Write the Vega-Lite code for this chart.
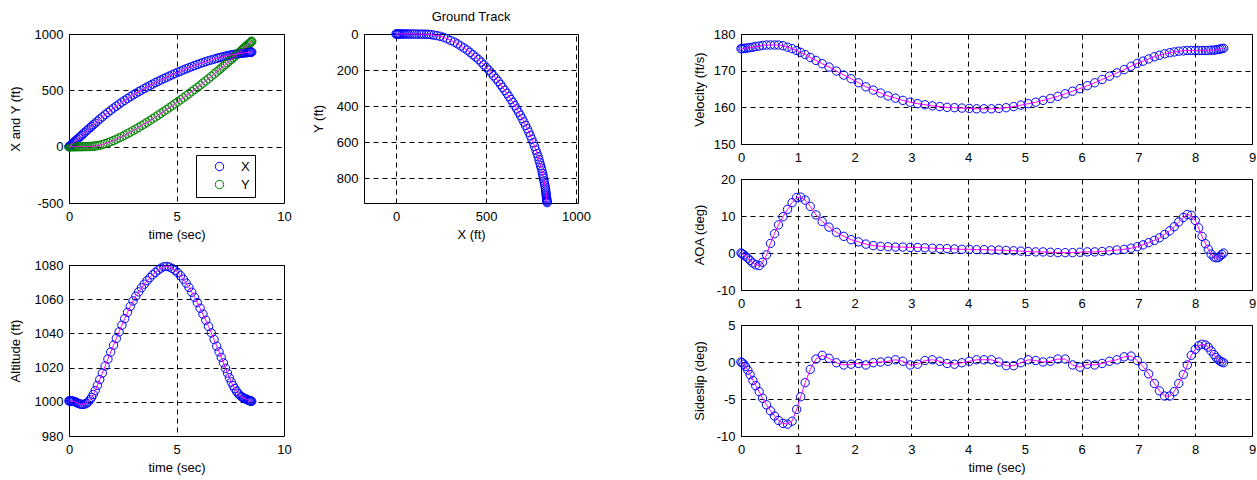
{
  "$schema": "https://vega.github.io/schema/vega-lite/v6.json",
  "background": "white",
  "padding": {"left": 8, "top": 10, "right": 0, "bottom": 0},
  "config": {
    "font": "Liberation Sans",
    "locale": {"number": {"decimal": ".", "thousands": "", "grouping": [3], "currency": ["", ""], "minus": "-"}},
    "view": {"stroke": "#000", "strokeWidth": 1},
    "axis": {
      "grid": true, "gridColor": "#000", "gridDash": [5, 4], "gridWidth": 1, "gridOpacity": 1,
      "domain": false, "ticks": false,
      "labelFont": "Liberation Sans", "labelFontSize": 13, "labelColor": "#000",
      "labelFlush": false, "labelOverlap": false,
      "titleFont": "Liberation Sans", "titleFontSize": 13, "titleFontWeight": "normal", "titleColor": "#000"
    },
    "axisX": {"labelPadding": 7, "titleY": 31, "titleBaseline": "middle"},
    "axisY": {"labelPadding": 6, "titleBaseline": "middle"},
    "title": {"font": "Liberation Sans", "fontSize": 13, "fontWeight": "normal", "color": "#000", "offset": 4, "baseline": "bottom", "frame": "group"}
  },
  "datasets": {
    "d": [
      {"t":0,"X":0,"Y":0,"h":1000.5,"v":176.0,"a":0,"b":0},
      {"t":0.02,"X":3.5,"Y":0,"h":1000.5,"v":176.0,"a":-0.2,"b":-0.1},
      {"t":0.05,"X":8.6,"Y":0,"h":1000.5,"v":176.1,"a":-0.5,"b":-0.3},
      {"t":0.08,"X":13.8,"Y":0,"h":1000.5,"v":176.1,"a":-0.9,"b":-0.6},
      {"t":0.12,"X":20.7,"Y":0,"h":1000.5,"v":176.2,"a":-1.4,"b":-1.1},
      {"t":0.16,"X":27.6,"Y":0,"h":1000.4,"v":176.3,"a":-2.0,"b":-1.7},
      {"t":0.21,"X":36.3,"Y":0,"h":1000.3,"v":176.4,"a":-2.7,"b":-2.5},
      {"t":0.26,"X":44.9,"Y":0,"h":1000.1,"v":176.6,"a":-3.2,"b":-3.2},
      {"t":0.32,"X":55.3,"Y":0,"h":999.8,"v":176.7,"a":-3.4,"b":-4.0},
      {"t":0.38,"X":65.7,"Y":0,"h":999.4,"v":176.9,"a":-2.5,"b":-4.9},
      {"t":0.45,"X":77.8,"Y":0,"h":999.0,"v":177.0,"a":-0.5,"b":-5.8},
      {"t":0.52,"X":89.9,"Y":0.1,"h":998.7,"v":177.0,"a":2.6,"b":-6.6},
      {"t":0.59,"X":102.0,"Y":0.3,"h":998.5,"v":177.0,"a":5.2,"b":-7.3},
      {"t":0.66,"X":114.0,"Y":0.5,"h":998.5,"v":177.0,"a":7.6,"b":-7.9},
      {"t":0.74,"X":127.8,"Y":0.7,"h":998.7,"v":176.8,"a":9.8,"b":-8.3},
      {"t":0.82,"X":141.6,"Y":0.9,"h":999.2,"v":176.4,"a":11.8,"b":-8.4},
      {"t":0.9,"X":155.4,"Y":1.2,"h":1000.0,"v":176.0,"a":13.6,"b":-8.0},
      {"t":0.98,"X":169.2,"Y":1.4,"h":1001.2,"v":175.5,"a":15.0,"b":-6.4},
      {"t":1.05,"X":181.1,"Y":2.2,"h":1002.5,"v":175.0,"a":15.1,"b":-4.7},
      {"t":1.13,"X":194.3,"Y":3.7,"h":1004.3,"v":174.4,"a":14.3,"b":-2.8},
      {"t":1.22,"X":209.3,"Y":6.0,"h":1006.6,"v":173.6,"a":12.6,"b":-1.0},
      {"t":1.32,"X":226.5,"Y":9.0,"h":1009.6,"v":172.8,"a":10.3,"b":0.4},
      {"t":1.43,"X":244.9,"Y":12.8,"h":1013.0,"v":171.9,"a":8.5,"b":0.9},
      {"t":1.55,"X":264.3,"Y":18.2,"h":1016.8,"v":171.0,"a":7.0,"b":0.5},
      {"t":1.68,"X":284.0,"Y":27.0,"h":1020.9,"v":169.9,"a":5.6,"b":-0.1},
      {"t":1.81,"X":303.7,"Y":35.8,"h":1025.0,"v":168.8,"a":4.5,"b":-0.4},
      {"t":1.94,"X":323.4,"Y":44.6,"h":1029.1,"v":167.8,"a":3.6,"b":-0.3},
      {"t":2.07,"X":342.0,"Y":54.8,"h":1033.1,"v":166.7,"a":3.0,"b":-0.2},
      {"t":2.2,"X":359.7,"Y":66.2,"h":1037.0,"v":165.6,"a":2.4,"b":-0.4},
      {"t":2.33,"X":377.3,"Y":77.7,"h":1040.9,"v":164.7,"a":2.0,"b":-0.1},
      {"t":2.46,"X":395.0,"Y":89.2,"h":1044.8,"v":163.9,"a":1.8,"b":0.0},
      {"t":2.59,"X":411.4,"Y":101.9,"h":1048.6,"v":163.1,"a":1.7,"b":0.1},
      {"t":2.72,"X":427.2,"Y":115.2,"h":1052.3,"v":162.5,"a":1.6,"b":0.3},
      {"t":2.85,"X":443.1,"Y":128.5,"h":1055.8,"v":161.9,"a":1.6,"b":0.1},
      {"t":2.98,"X":459.0,"Y":141.9,"h":1059.0,"v":161.4,"a":1.5,"b":-0.4},
      {"t":3.11,"X":473.4,"Y":156.4,"h":1061.8,"v":161.0,"a":1.5,"b":-0.3},
      {"t":3.24,"X":487.6,"Y":171.1,"h":1064.3,"v":160.7,"a":1.4,"b":0.2},
      {"t":3.37,"X":501.9,"Y":185.9,"h":1066.7,"v":160.4,"a":1.3,"b":0.3},
      {"t":3.5,"X":516.1,"Y":200.6,"h":1068.8,"v":160.2,"a":1.2,"b":0.1},
      {"t":3.63,"X":529.2,"Y":216.2,"h":1070.8,"v":160.0,"a":1.2,"b":-0.2},
      {"t":3.76,"X":542.3,"Y":231.9,"h":1072.6,"v":159.9,"a":1.1,"b":-0.3},
      {"t":3.89,"X":555.4,"Y":247.5,"h":1074.3,"v":159.8,"a":1.0,"b":-0.1},
      {"t":4.02,"X":568.3,"Y":263.2,"h":1075.7,"v":159.7,"a":1.0,"b":0.1},
      {"t":4.15,"X":580.3,"Y":279.7,"h":1077.1,"v":159.6,"a":0.9,"b":0.3},
      {"t":4.28,"X":592.3,"Y":296.2,"h":1078.2,"v":159.6,"a":0.9,"b":0.3},
      {"t":4.41,"X":604.2,"Y":312.6,"h":1079.0,"v":159.6,"a":0.8,"b":0.3},
      {"t":4.54,"X":615.9,"Y":329.3,"h":1079.2,"v":159.7,"a":0.8,"b":0.0},
      {"t":4.67,"X":627.1,"Y":346.4,"h":1078.8,"v":159.9,"a":0.7,"b":-0.5},
      {"t":4.8,"X":638.2,"Y":363.5,"h":1078.0,"v":160.2,"a":0.6,"b":-0.5},
      {"t":4.93,"X":649.3,"Y":380.6,"h":1076.9,"v":160.6,"a":0.5,"b":-0.1},
      {"t":5.06,"X":660.1,"Y":398.0,"h":1075.5,"v":161.0,"a":0.4,"b":0.3},
      {"t":5.19,"X":670.4,"Y":415.9,"h":1073.7,"v":161.4,"a":0.3,"b":0.2},
      {"t":5.32,"X":680.7,"Y":433.8,"h":1071.7,"v":161.9,"a":0.3,"b":0.0},
      {"t":5.45,"X":691.0,"Y":451.6,"h":1069.4,"v":162.4,"a":0.2,"b":0.1},
      {"t":5.58,"X":700.8,"Y":470.0,"h":1066.9,"v":163.0,"a":0.1,"b":0.4},
      {"t":5.71,"X":710.3,"Y":488.6,"h":1064.1,"v":163.7,"a":0.1,"b":0.4},
      {"t":5.84,"X":719.8,"Y":507.2,"h":1061.1,"v":164.4,"a":0.1,"b":-0.4},
      {"t":5.97,"X":729.3,"Y":525.8,"h":1058.0,"v":165.1,"a":0.2,"b":-0.7},
      {"t":6.1,"X":737.9,"Y":545.2,"h":1054.7,"v":165.9,"a":0.3,"b":-0.3},
      {"t":6.23,"X":746.2,"Y":564.8,"h":1051.3,"v":166.7,"a":0.3,"b":-0.4},
      {"t":6.36,"X":754.5,"Y":584.3,"h":1047.7,"v":167.6,"a":0.4,"b":-0.2},
      {"t":6.49,"X":762.9,"Y":603.9,"h":1044.1,"v":168.5,"a":0.6,"b":0.1},
      {"t":6.62,"X":770.0,"Y":624.3,"h":1040.3,"v":169.4,"a":0.8,"b":0.3},
      {"t":6.75,"X":777.1,"Y":644.8,"h":1036.4,"v":170.3,"a":1.0,"b":0.7},
      {"t":6.87,"X":783.6,"Y":663.7,"h":1032.5,"v":171.2,"a":1.3,"b":0.8},
      {"t":6.98,"X":789.6,"Y":681.1,"h":1029.2,"v":172.0,"a":1.7,"b":0.2},
      {"t":7.08,"X":794.2,"Y":697.4,"h":1026.0,"v":172.6,"a":2.2,"b":-0.6},
      {"t":7.18,"X":798.6,"Y":713.8,"h":1022.8,"v":173.2,"a":2.8,"b":-1.6},
      {"t":7.28,"X":803.0,"Y":730.2,"h":1019.6,"v":173.8,"a":3.4,"b":-2.9},
      {"t":7.37,"X":807.0,"Y":745.0,"h":1016.8,"v":174.2,"a":4.1,"b":-3.9},
      {"t":7.46,"X":810.9,"Y":759.8,"h":1014.1,"v":174.6,"a":5.0,"b":-4.6},
      {"t":7.55,"X":814.3,"Y":774.8,"h":1011.6,"v":174.9,"a":6.0,"b":-4.6},
      {"t":7.63,"X":816.9,"Y":788.3,"h":1009.5,"v":175.1,"a":7.1,"b":-4.0},
      {"t":7.71,"X":819.6,"Y":801.8,"h":1007.7,"v":175.3,"a":8.4,"b":-2.9},
      {"t":7.79,"X":822.2,"Y":815.2,"h":1006.2,"v":175.4,"a":9.6,"b":-1.7},
      {"t":7.86,"X":824.5,"Y":827.0,"h":1005.0,"v":175.5,"a":10.4,"b":-0.4},
      {"t":7.93,"X":826.8,"Y":838.8,"h":1004.0,"v":175.5,"a":10.2,"b":0.9},
      {"t":8.0,"X":829.1,"Y":850.6,"h":1003.2,"v":175.5,"a":8.8,"b":1.7},
      {"t":8.06,"X":830.4,"Y":860.9,"h":1002.7,"v":175.5,"a":6.8,"b":2.2},
      {"t":8.12,"X":831.6,"Y":871.1,"h":1002.3,"v":175.5,"a":4.5,"b":2.4},
      {"t":8.18,"X":832.9,"Y":881.4,"h":1001.9,"v":175.5,"a":2.5,"b":2.3},
      {"t":8.23,"X":833.9,"Y":889.9,"h":1001.6,"v":175.5,"a":1.0,"b":2.0},
      {"t":8.28,"X":835.0,"Y":898.4,"h":1001.3,"v":175.6,"a":-0.3,"b":1.5},
      {"t":8.33,"X":836.0,"Y":907.0,"h":1001.0,"v":175.6,"a":-1.1,"b":1.0},
      {"t":8.37,"X":836.9,"Y":913.8,"h":1000.8,"v":175.7,"a":-1.3,"b":0.6},
      {"t":8.41,"X":837.7,"Y":920.7,"h":1000.6,"v":175.8,"a":-1.2,"b":0.3},
      {"t":8.44,"X":838.3,"Y":925.8,"h":1000.5,"v":175.9,"a":-0.8,"b":0.1},
      {"t":8.47,"X":839.0,"Y":931.0,"h":1000.4,"v":176.0,"a":-0.4,"b":0.0},
      {"t":8.5,"X":839.6,"Y":936.1,"h":1000.3,"v":176.1,"a":0,"b":-0.1}
    ]
  },
  "spacing": 101,
  "resolve": {"scale": {"color": "independent"}, "legend": {"color": "independent"}},
  "hconcat": [
    {
      "spacing": 19,
      "resolve": {"scale": {"color": "independent"}, "legend": {"color": "independent"}},
      "hconcat": [
        {
          "bounds": "flush",
          "spacing": 62,
          "resolve": {"scale": {"color": "independent"}, "legend": {"color": "independent"}},
          "vconcat": [
            {
              "width": 215, "height": 169,
              "title": {"text": " "},
              "data": {"name": "d"},
              "transform": [{"fold": ["X", "Y"], "as": ["series", "val"]}],
              "encoding": {
                "x": {"field": "t", "type": "quantitative", "scale": {"domain": [0, 10], "nice": false}, "axis": {"values": [0, 5, 10], "title": "time (sec)"}},
                "y": {"field": "val", "type": "quantitative", "scale": {"domain": [-500, 1000], "nice": false}, "axis": {"values": [-500, 0, 500, 1000], "title": "X and Y (ft)", "titleX": -54}}
              },
              "layer": [
                {
                  "mark": {"type": "point", "shape": "circle", "filled": false, "size": 70, "strokeWidth": 1, "opacity": 1},
                  "encoding": {
                    "color": {"field": "series", "type": "nominal", "scale": {"domain": ["X", "Y"], "range": ["#0000ff", "#008000"]},
                      "legend": {"title": null, "orient": "none", "legendX": 127, "legendY": 121, "strokeColor": "#000", "fillColor": "#fff", "padding": 5, "symbolType": "circle", "symbolSize": 70, "symbolStrokeWidth": 1, "labelFontSize": 13, "labelFont": "Liberation Sans", "labelColor": "#000", "labelOffset": 15, "symbolOffset": 12, "rowPadding": 4, "labelExpr": "datum.label + '    '"}}
                  }
                },
                {
                  "mark": {"type": "line", "color": "#ff00ff", "strokeWidth": 1},
                  "encoding": {"detail": {"field": "series"}}
                }
              ]
            },
            {
              "width": 215, "height": 171,
              "data": {"name": "d"},
              "encoding": {
                "x": {"field": "t", "type": "quantitative", "scale": {"domain": [0, 10], "nice": false}, "axis": {"values": [0, 5, 10], "title": "time (sec)"}},
                "y": {"field": "h", "type": "quantitative", "scale": {"domain": [980, 1080], "nice": false, "zero": false}, "axis": {"values": [980, 1000, 1020, 1040, 1060, 1080], "title": "Altitude (ft)", "titleX": -54}}
              },
              "layer": [
                {"mark": {"type": "point", "shape": "circle", "filled": false, "color": "#0000ff", "size": 70, "strokeWidth": 1, "opacity": 1}},
                {"mark": {"type": "line", "color": "#ff00ff", "strokeWidth": 1}}
              ]
            }
          ]
        },
        {
          "width": 214, "height": 169,
          "title": {"text": "Ground Track"},
          "data": {"name": "d"},
          "encoding": {
            "x": {"field": "X", "type": "quantitative", "scale": {"domain": [-178, 1011], "nice": false, "zero": false}, "axis": {"values": [0, 500, 1000], "title": "X (ft)"}},
            "y": {"field": "Y", "type": "quantitative", "scale": {"domain": [0, 938], "nice": false, "reverse": true}, "axis": {"values": [0, 200, 400, 600, 800], "title": "Y (ft)", "titleX": -46}}
          },
          "layer": [
            {"mark": {"type": "point", "shape": "circle", "filled": false, "color": "#0000ff", "size": 70, "strokeWidth": 1, "opacity": 1}},
            {"mark": {"type": "line", "color": "#ff00ff", "strokeWidth": 1}, "encoding": {"order": {"field": "t", "type": "quantitative"}}}
          ]
        }
      ]
    },
    {
      "bounds": "flush",
      "spacing": 35,
      "vconcat": [
        {
          "width": 511, "height": 110,
          "title": {"text": " "},
          "data": {"name": "d"},
          "encoding": {
            "x": {"field": "t", "type": "quantitative", "scale": {"domain": [0, 9], "nice": false}, "axis": {"values": [0,1,2,3,4,5,6,7,8,9], "title": null}},
            "y": {"field": "v", "type": "quantitative", "scale": {"domain": [150, 180], "nice": false, "zero": false}, "axis": {"values": [150, 160, 170, 180], "title": "Velocity (ft/s)", "titleX": -42}}
          },
          "layer": [
            {"mark": {"type": "point", "shape": "circle", "filled": false, "color": "#0000ff", "size": 70, "strokeWidth": 1, "opacity": 1}},
            {"mark": {"type": "line", "color": "#ff00ff", "strokeWidth": 1}}
          ]
        },
        {
          "width": 511, "height": 111,
          "data": {"name": "d"},
          "encoding": {
            "x": {"field": "t", "type": "quantitative", "scale": {"domain": [0, 9], "nice": false}, "axis": {"values": [0,1,2,3,4,5,6,7,8,9], "title": null}},
            "y": {"field": "a", "type": "quantitative", "scale": {"domain": [-10, 20], "nice": false}, "axis": {"values": [-10, 0, 10, 20], "title": "AOA (deg)", "titleX": -42}}
          },
          "layer": [
            {"mark": {"type": "point", "shape": "circle", "filled": false, "color": "#0000ff", "size": 70, "strokeWidth": 1, "opacity": 1}},
            {"mark": {"type": "line", "color": "#ff00ff", "strokeWidth": 1}}
          ]
        },
        {
          "width": 511, "height": 111,
          "data": {"name": "d"},
          "encoding": {
            "x": {"field": "t", "type": "quantitative", "scale": {"domain": [0, 9], "nice": false}, "axis": {"values": [0,1,2,3,4,5,6,7,8,9], "title": "time (sec)"}},
            "y": {"field": "b", "type": "quantitative", "scale": {"domain": [-10, 5], "nice": false}, "axis": {"values": [-10, -5, 0, 5], "title": "Sideslip (deg)", "titleX": -42}}
          },
          "layer": [
            {"mark": {"type": "point", "shape": "circle", "filled": false, "color": "#0000ff", "size": 70, "strokeWidth": 1, "opacity": 1}},
            {"mark": {"type": "line", "color": "#ff00ff", "strokeWidth": 1}}
          ]
        }
      ]
    }
  ]
}
